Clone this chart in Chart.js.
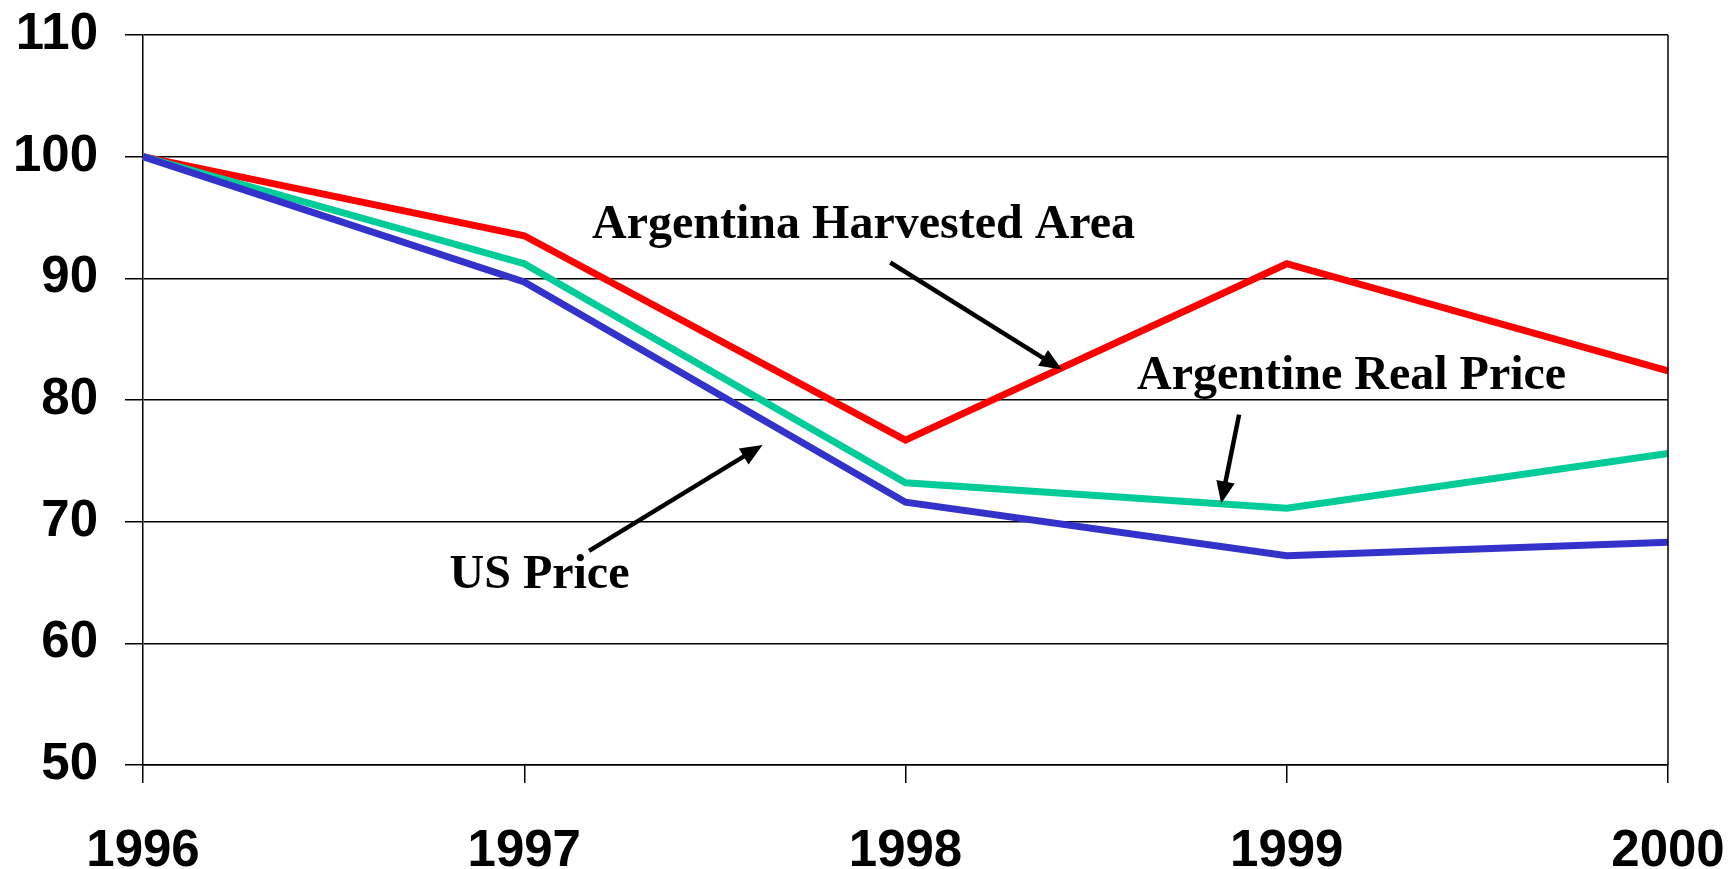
<html><head><script src="https://cdn.jsdelivr.net/npm/chart.js@4.4.3/dist/chart.umd.min.js"></script>
<style>body{margin:0;background:#fff} #wrap{width:1730px;height:869px}</style></head>
<body>
<div id="wrap"><canvas id="mychart"></canvas></div>
<script>
years = ["1996", "1997", "1998", "1999", "2000"]
harvested = [100, 93.5, 76.7, 91.2, 82.4]
realPrice = [100, 91.2, 73.2, 71.1, 75.6]
usPrice = [100, 89.7, 71.6, 67.2, 68.3]
yMin = 50; yMax = 110; yStep = 10

// notes: text + arrow, given in data units (x = year index, y = value)
notes = [
  { text: "Argentina Harvested Area", tx: 1.89, ty: 94.3, from: [1.96, 91.3], to: [2.41, 82.5] },
  { text: "Argentine Real Price", tx: 3.17, ty: 81.9, from: [2.875, 78.8], to: [2.828, 71.5] },
  { text: "US Price", tx: 1.04, ty: 65.6, from: [1.17, 67.6], to: [1.625, 76.3] }
]

notePlugin = {
  id: "notes",
  afterDatasetsDraw(chart) {
    ctx = chart.ctx; xs = chart.scales.x; ys = chart.scales.y; a = chart.chartArea
    ctx.save()
    // right border at 2000
    ctx.strokeStyle = "#000"; ctx.lineWidth = 1.5
    ctx.beginPath(); ctx.moveTo(a.right, a.top); ctx.lineTo(a.right, a.bottom); ctx.stroke()
    ctx.font = "bold 48px 'Liberation Serif'"
    ctx.textAlign = "center"; ctx.textBaseline = "middle"; ctx.fillStyle = "#000"
    notes.forEach(n => {
      ctx.fillText(n.text, xs.getPixelForValue(n.tx), ys.getPixelForValue(n.ty))
      x1 = xs.getPixelForValue(n.from[0]); y1 = ys.getPixelForValue(n.from[1])
      x2 = xs.getPixelForValue(n.to[0]); y2 = ys.getPixelForValue(n.to[1])
      ang = Math.atan2(y2 - y1, x2 - x1)
      hx = x2 - 18 * Math.cos(ang); hy = y2 - 18 * Math.sin(ang)
      ctx.lineWidth = 4.5
      ctx.beginPath(); ctx.moveTo(x1, y1); ctx.lineTo(hx, hy); ctx.stroke()
      ctx.beginPath()
      ctx.moveTo(x2, y2)
      ctx.lineTo(x2 - 24 * Math.cos(ang - 0.4), y2 - 24 * Math.sin(ang - 0.4))
      ctx.lineTo(x2 - 24 * Math.cos(ang + 0.4), y2 - 24 * Math.sin(ang + 0.4))
      ctx.closePath(); ctx.fill()
    })
    ctx.restore()
  }
}

tickFont = { family: "'Liberation Sans', Arial", size: 51, weight: "bold", lineHeight: 0.7 }
function line(label, data, color) {
  return { label: label, data: data, borderColor: color, backgroundColor: color,
    borderWidth: 7, pointRadius: 0, tension: 0, fill: false }
}
datainfo = { labels: years, datasets: [
  line("US Price", usPrice, "#3333CC"),
  line("Argentine Real Price", realPrice, "#00CC99"),
  line("Argentina Harvested Area", harvested, "#FF0000")
] }
config = { type: "line", data: datainfo, plugins: [notePlugin],
  options: {
    responsive: true, maintainAspectRatio: false, animation: false,
    layout: { padding: { left: 16, right: 62, top: 35, bottom: 0 } },
    plugins: { legend: { display: false }, tooltip: { enabled: false } },
    scales: {
      x: { offset: false,
        afterFit(s) { s.height = 104; s.paddingLeft = 0; s.paddingRight = 0 },
        grid: { drawOnChartArea: false, color: "#000", lineWidth: 1.5, tickLength: 18 },
        border: { color: "#000", width: 1.5 },
        ticks: { color: "#000", font: tickFont, padding: 51, maxRotation: 0 } },
      y: { min: yMin, max: yMax,
        afterFit(s) { s.width = 127; s.paddingTop = 0; s.paddingBottom = 0 },
        grid: { color: "#000", lineWidth: 1.5, tickLength: 18 },
        border: { color: "#000", width: 1.5 },
        ticks: { stepSize: yStep, color: "#000", font: tickFont, padding: 27 } }
    }
  } }
new Chart(document.querySelector("#mychart"), config)
</script>
</body></html>
